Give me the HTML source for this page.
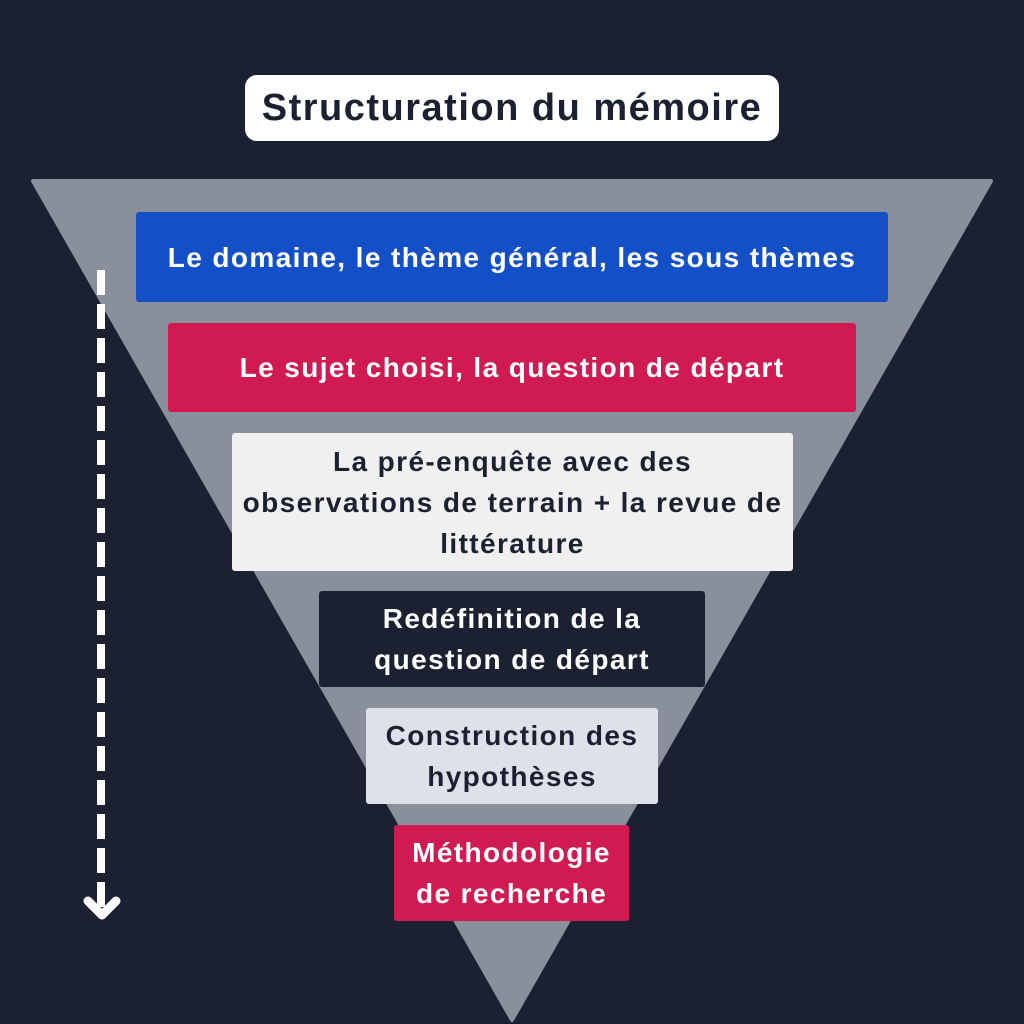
<!DOCTYPE html>
<html><head><meta charset="utf-8"><style>
html,body{margin:0;padding:0;background:#1c2132;}
body{width:1024px;height:1024px;position:relative;overflow:hidden;font-family:"Liberation Sans",sans-serif;font-weight:bold;}
.b{position:absolute;display:flex;align-items:center;justify-content:center;text-align:center;border-radius:3px;font-size:28px;line-height:41px;letter-spacing:1.4px;}
</style></head><body>
<svg width="1024" height="1024" style="position:absolute;left:0;top:0">
<polygon points="33,181 991,181 512,1020" fill="#8a8f9c" stroke="#8a8f9c" stroke-width="4" stroke-linejoin="round"/>
<line x1="101" y1="270" x2="101" y2="912" stroke="#fff" stroke-width="8" stroke-dasharray="25,9"/>
<polyline points="88,901 102,915 116,901" fill="none" stroke="#fff" stroke-width="9" stroke-linecap="round" stroke-linejoin="round"/>
</svg>
<div class="b" style="left:245px;top:75px;width:534px;height:66px;background:#fff;color:#1c2132;font-size:38px;letter-spacing:1.5px;border-radius:12px;">Structuration du mémoire</div>
<div class="b" style="left:136px;top:212px;width:752px;height:90px;background:#1350c8;color:#fff;">Le domaine, le thème général, les sous thèmes</div>
<div class="b" style="left:168px;top:323px;width:688px;height:89px;background:#d01a52;color:#fff;">Le sujet choisi, la question de départ</div>
<div class="b" style="left:232px;top:433px;width:561px;height:138px;background:#f0f0f0;color:#1c2132;">La pré-enquête avec des<br>observations de terrain + la revue de<br>littérature</div>
<div class="b" style="left:319px;top:591px;width:386px;height:96px;background:#1c2132;color:#fff;">Redéfinition de la<br>question de départ</div>
<div class="b" style="left:366px;top:708px;width:292px;height:96px;background:#dde1ea;color:#1c2132;">Construction des<br>hypothèses</div>
<div class="b" style="left:394px;top:825px;width:235px;height:96px;background:#d01a52;color:#fff;">Méthodologie<br>de recherche</div>
</body></html>
